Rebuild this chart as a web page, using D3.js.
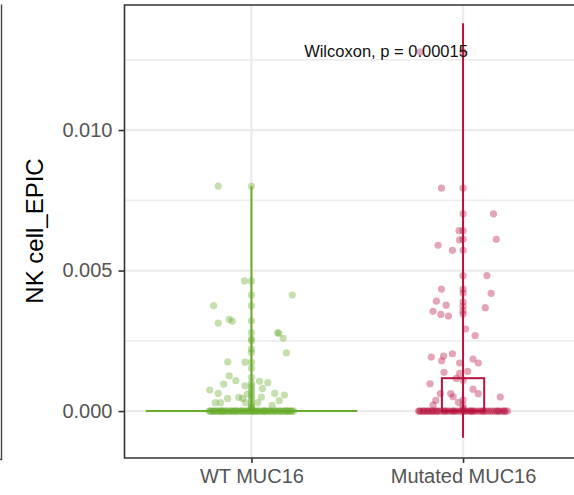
<!DOCTYPE html>
<html>
<head>
<meta charset="utf-8">
<script src="https://cdnjs.cloudflare.com/ajax/libs/d3/7.8.5/d3.min.js"></script>
<style>
  body { margin: 0; background: #fff; }
  svg { display: block; font-family: "Liberation Sans", Arial, sans-serif; }
</style>
</head>
<body>
<div id="chart"></div>
<script>
// groups and axis
var groups = ["WT MUC16", "Mutated MUC16"];
var colors = ["#6aab2c", "#b8123f"];
var yTicks = [0, 0.005, 0.010];
var yMinor = [0.0025, 0.0075, 0.0125];
var pLabel = "Wilcoxon, p = 0.00015";

// violin outlines: half-width at 0 in group units, vertical extent
var violinHalfWidth = [0.5, 0.0];
var violinRange = [[0, 0.0080], [-0.00095, 0.0138]];

// boxes: q1, median, q3
var boxStats = [[0, 0, 0], [0, 0, 0.00117]];

// jittered points: value and horizontal jitter (group units)
var wtValues = [0.00801, 0.0080, 0.00463, 0.00463, 0.00413, 0.00413, 0.00375, 0.00375,
  0.00313, 0.00326, 0.0032, 0.00321, 0.00279, 0.00279, 0.00277, 0.00259, 0.00257, 0.0025,
  0.00207, 0.00221, 0.00208, 0.00175, 0.00174, 0.00174, 0.00152, 0.00125, 0.00108, 0.00096,
  0.00075, 0.00063, 0.00045, 0.00049, 0.0003, 0.0003, 0.00106, 0.00101, 0.0008, 0.0005,
  0.0003, 0.00063, 0.00057, 0.00037, 0.0002, 0.0009, 0.0006, 0.00045, 0.0003,
  0.0012, 0.001, 0.0009, 0.0008, 0.0007, 0.0006, 0.0005, 0.0004, 0.0003, 0.0002, 0.00015, 0.0001, 0.00005];
var wtJitter = [-0.157, 0, -0.033, 0, 0, 0.193, -0.179, 0,
  -0.157, -0.105, -0.091, 0, 0, 0.124, 0.129, 0.15, 0, 0,
  0.165, 0, 0, -0.112, -0.03, 0, 0, -0.105, -0.074, -0.131,
  -0.197, -0.157, -0.113, -0.06, -0.171, -0.146, 0.038, 0.077, 0.052, 0.047,
  0.03, 0.11, 0.156, 0.131, 0.098, -0.03, -0.02, -0.042, -0.028,
  0, 0, 0, 0, 0, 0, 0, 0, 0, 0, 0, 0, 0];
var wtZeroJitter = [-0.2, -0.19, -0.185, -0.176, -0.168, -0.16, -0.151, -0.143, -0.135, -0.126,
  -0.118, -0.109, -0.1, -0.092, -0.083, -0.074, -0.066, -0.057, -0.049, -0.04,
  -0.032, -0.023, -0.015, -0.006, 0, 0.004, 0.012, 0.021, 0.03, 0.038,
  0.047, 0.055, 0.064, 0.072, 0.081, 0.09, 0.098, 0.107, 0.115, 0.124,
  0.132, 0.141, 0.149, 0.158, 0.166, 0.175, 0.183, 0.192, 0.2, -0.138, 0.061, 0.17,
  -0.195, -0.172, -0.147, -0.122, -0.096, -0.07, -0.045, -0.019, 0.008, 0.034,
  0.059, 0.085, 0.111, 0.137, 0.162, 0.188, -0.08, 0.02];

var mutValues = [0.00793, 0.00793, 0.01278, 0.01278, 0.00702, 0.00702, 0.00642, 0.00642,
  0.0059, 0.00609, 0.00611, 0.00611, 0.00572, 0.00572, 0.00482, 0.00482, 0.00434, 0.00434,
  0.0042, 0.00419, 0.00391, 0.00377, 0.00355, 0.00344, 0.00338, 0.00389, 0.00373, 0.00356,
  0.00345, 0.00368, 0.00292, 0.00269, 0.00192, 0.00196, 0.00179, 0.00204, 0.00171, 0.00185,
  0.00171, 0.00138, 0.00141, 0.00134, 0.00116, 0.00097, 0.00062, 0.00062, 0.00051, 0.00031,
  0.00078, 0.00062, 0.0005, 0.00038, 0.00021, 0.0011, 0.0004, 0.0002, 0.0001];
var mutJitter = [-0.102, 0, -0.201, 0, 0.144, 0, -0.019, 0,
  -0.118, -0.016, 0, 0.157, -0.05, 0, 0.113, 0, -0.102, 0,
  0, 0.133, -0.126, -0.08, -0.142, -0.105, -0.069, 0, 0, 0,
  0, 0.105, 0.012, 0.057, -0.15, -0.092, -0.101, -0.05, -0.016, 0.047,
  0.072, -0.09, 0.022, -0.016, -0.032, -0.156, -0.107, -0.058, -0.047, -0.022,
  0.047, 0.072, 0.176, -0.129, -0.142, 0, 0, 0, 0];
var mutZeroJitter = [-0.21, -0.2, -0.19, -0.18, -0.17, -0.16, -0.15, -0.14, -0.13, -0.12,
  -0.11, -0.1, -0.09, -0.08, -0.07, -0.06, -0.05, -0.04, -0.03, -0.02,
  -0.01, 0, 0.01, 0.02, 0.03, 0.04, 0.05, 0.06, 0.07, 0.08,
  0.09, 0.1, 0.11, 0.12, 0.13, 0.14, 0.15, 0.16, 0.17, 0.18, 0.19, 0.2, 0.21, -0.145, 0.035,
  -0.205, -0.185, -0.165, -0.125, -0.085, -0.045, 0.005, 0.045, 0.095, 0.165, 0.195];

var width = 574, height = 495;
var panel = {left: 124.5, top: 5, bottom: 458, right: 590};

var svg = d3.select("#chart").append("svg")
  .attr("width", width).attr("height", height);

var x = d3.scalePoint().domain(groups).range([panel.left, panel.right]).padding(0.6);
var step = x.step();
var y = d3.scaleLinear().domain([-0.00167, 0.01445]).range([panel.bottom, panel.top]);

// left neighbour panel edge
svg.append("path")
  .attr("d", "M1.5,4.5 V459.5 H0")
  .attr("fill", "none").attr("stroke", "#444").attr("stroke-width", 1.4);

// grid
var grid = svg.append("g");
grid.selectAll(".minor").data(yMinor).enter().append("line")
  .attr("x1", panel.left).attr("x2", width)
  .attr("y1", function(d) { return y(d); }).attr("y2", function(d) { return y(d); })
  .attr("stroke", "#eeeeee").attr("stroke-width", 1.8);
grid.selectAll(".major").data(yTicks).enter().append("line")
  .attr("x1", panel.left).attr("x2", width)
  .attr("y1", function(d) { return y(d); }).attr("y2", function(d) { return y(d); })
  .attr("stroke", "#ebebeb").attr("stroke-width", 2.2);
grid.selectAll(".vmajor").data(groups).enter().append("line")
  .attr("y1", panel.top).attr("y2", panel.bottom)
  .attr("x1", function(d) { return x(d); }).attr("x2", function(d) { return x(d); })
  .attr("stroke", "#ebebeb").attr("stroke-width", 2.2);

// violins drawn as thin outlines
groups.forEach(function(g, i) {
  var cx = x(g);
  svg.append("line")
    .attr("x1", cx).attr("x2", cx)
    .attr("y1", y(violinRange[i][0])).attr("y2", y(violinRange[i][1]))
    .attr("stroke", colors[i]).attr("stroke-width", 2);
  if (violinHalfWidth[i] > 0) {
    svg.append("line")
      .attr("x1", cx - violinHalfWidth[i] * step).attr("x2", cx + violinHalfWidth[i] * step)
      .attr("y1", y(0)).attr("y2", y(0))
      .attr("stroke", colors[i]).attr("stroke-width", 2);
  }
});

// points
function drawPoints(vals, jit, zeroJit, i) {
  var cx = x(groups[i]);
  var pts = vals.map(function(v, k) { return {v: v, j: jit[k]}; })
    .concat(zeroJit.map(function(j) { return {v: 0, j: j}; }));
  svg.append("g").selectAll("circle").data(pts).enter().append("circle")
    .attr("cx", function(d) { return cx + d.j * step; })
    .attr("cy", function(d) { return y(d.v); })
    .attr("r", 3.6)
    .attr("fill", colors[i])
    .attr("fill-opacity", 0.38);
}
drawPoints(wtValues, wtJitter, wtZeroJitter, 0);
drawPoints(mutValues, mutJitter, mutZeroJitter, 1);

// boxes
groups.forEach(function(g, i) {
  var cx = x(g), hw = 0.1 * step, b = boxStats[i];
  svg.append("rect")
    .attr("x", cx - hw).attr("width", 2 * hw)
    .attr("y", y(b[2])).attr("height", Math.max(0, y(b[0]) - y(b[2])))
    .attr("fill", "none").attr("stroke", colors[i]).attr("stroke-width", 2);
  svg.append("line")
    .attr("x1", cx - hw).attr("x2", cx + hw)
    .attr("y1", y(b[1])).attr("y2", y(b[1]))
    .attr("stroke", colors[i]).attr("stroke-width", 2.4);
});

// p-value label
svg.append("text")
  .attr("x", 386).attr("y", 56.5)
  .attr("text-anchor", "middle")
  .style("font-size", "16.5px").attr("fill", "#111")
  .text(pLabel);

// panel border
svg.append("path")
  .attr("d", "M" + width + "," + panel.top + " H" + panel.left + " V" + panel.bottom + " H" + width)
  .attr("fill", "none").attr("stroke", "#333").attr("stroke-width", 1.6);

// axes
var yAxis = svg.append("g")
  .attr("transform", "translate(" + panel.left + ",0)")
  .call(d3.axisLeft(y).tickValues(yTicks).tickFormat(d3.format(".3f")).tickSize(6).tickPadding(6));
yAxis.select(".domain").remove();
yAxis.selectAll("line").attr("stroke", "#333").attr("stroke-width", 1.6);
yAxis.selectAll("text").attr("fill", "#555").style("font-size", "20px").style("font-family", "Liberation Sans, Arial, sans-serif");

var xAxis = svg.append("g")
  .attr("transform", "translate(0," + panel.bottom + ")")
  .call(d3.axisBottom(x).tickSize(5).tickPadding(6));
xAxis.select(".domain").remove();
xAxis.selectAll("line").attr("stroke", "#333").attr("stroke-width", 1.6);
xAxis.selectAll("text").attr("fill", "#555").style("font-size", "20px").style("font-family", "Liberation Sans, Arial, sans-serif");

// y title
svg.append("text")
  .attr("transform", "translate(43," + 231 + ") rotate(-90)")
  .attr("text-anchor", "middle")
  .style("font-size", "24px").attr("fill", "#000")
  .text("NK cell_EPIC");
</script>
</body>
</html>
